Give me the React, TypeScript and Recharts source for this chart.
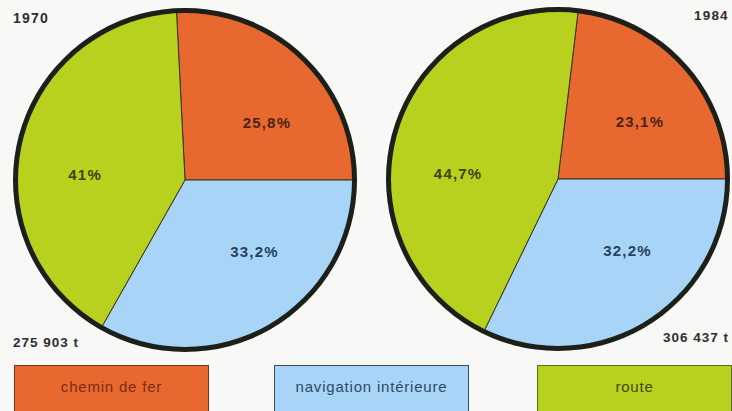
import { PieChart, Pie, Cell, Legend } from "recharts";

const CATEGORIES = ["chemin de fer", "navigation intérieure", "route"];
const YEARS = ["1970", "1984"];
const SHARES_1970 = [25.8, 33.2, 41];
const SHARES_1984 = [23.1, 32.2, 44.7];
const TOTALS = ["275 903 t", "306 437 t"];
const RING = [{ name: "ring", value: 1 }];

const FILLS = ["#e8692f", "#a8d4f7", "#b8d01e"];
const LABEL_INK = ["#4d2414", "#25425e", "#3a4510"];
const LEGEND_INK = ["#7a2c12", "#2c4a68", "#3d4a12"];
const LEGEND_BORDER = ["#6a3a1c", "#3c4c5c", "#5e6a1c"];

const FONT = "'Liberation Sans', Arial, Helvetica, sans-serif";
const W = 732;
const H = 411;
const RADIUS = 169;
// labels sit at the same angles in both pies, not at the slice middles
const LABEL_ANGLES = [35, -46, 177];
const LABEL_RADIUS = 100;
const RADIAN = Math.PI / 180;

const toData = (shares: number[]) =>
  CATEGORIES.map((name, i) => ({ name, value: shares[i] }));

const data1970 = toData(SHARES_1970);
const data1984 = toData(SHARES_1984);

const fmt = (v: number) => `${String(v).replace(".", ",")}%`;

function SliceLabel(props: any) {
  const { cx, cy, index, value } = props;
  const a = LABEL_ANGLES[index] * RADIAN;
  const x = cx + LABEL_RADIUS * Math.cos(a);
  const y = cy - LABEL_RADIUS * Math.sin(a);
  return (
    <text
      x={x}
      y={y}
      textAnchor="middle"
      dominantBaseline="central"
      fill={LABEL_INK[index]}
      fontFamily={FONT}
      fontSize={15}
      fontWeight="bold"
      letterSpacing={1.2}
    >
      {fmt(value)}
    </text>
  );
}

function LegendBoxes() {
  return (
    <div style={{ position: "relative", width: W, height: 46 }}>
      {CATEGORIES.map((name, i) => (
        <div
          key={name}
          style={{
            position: "absolute",
            left: [14, 274, 537][i],
            top: 0,
            width: 195,
            height: 50,
            boxSizing: "border-box",
            background: FILLS[i],
            border: `1px solid ${LEGEND_BORDER[i]}`,
            color: LEGEND_INK[i],
            fontFamily: FONT,
            fontSize: 15,
            letterSpacing: 0.8,
            lineHeight: "22px",
            paddingTop: 10,
            textAlign: "center",
          }}
        >
          {name}
        </div>
      ))}
    </div>
  );
}

export default function App() {
  const pies = [
    { data: data1970, cx: 185, cy: 180, start: SHARES_1970[0] * 3.6 },
    { data: data1984, cx: 558, cy: 179, start: SHARES_1984[0] * 3.6 },
  ];

  return (
    <div
      style={{
        position: "absolute",
        left: 0,
        top: 0,
        width: W,
        height: H,
        overflow: "hidden",
        background: "#f8f8f7",
      }}
    >
      <PieChart width={W} height={H} margin={{ top: 0, right: 0, bottom: 0, left: 0 }}>
        {pies.map((p, k) => (
          <Pie
            key={`pie-${k}`}
            data={p.data}
            dataKey="value"
            nameKey="name"
            cx={p.cx}
            cy={p.cy}
            outerRadius={RADIUS}
            startAngle={p.start}
            endAngle={p.start - 360}
            stroke="#3a3028"
            strokeWidth={1}
            label={SliceLabel}
            labelLine={false}
            legendType={k === 0 ? "rect" : "none"}
            isAnimationActive={false}
          >
            {p.data.map((d, i) => (
              <Cell key={d.name} fill={FILLS[i]} />
            ))}
          </Pie>
        ))}
        {pies.map((p, k) => (
          <Pie
            key={`ring-${k}`}
            data={RING}
            dataKey="value"
            cx={p.cx}
            cy={p.cy}
            innerRadius={RADIUS - 2}
            outerRadius={RADIUS + 3}
            fill="#1c2018"
            stroke="none"
            legendType="none"
            isAnimationActive={false}
          />
        ))}
        <Legend
          content={() => <LegendBoxes />}
          wrapperStyle={{ left: 0, top: 365, bottom: "auto", width: W }}
        />
      </PieChart>
      <svg
        width={W}
        height={H}
        style={{ position: "absolute", left: 0, top: 0, pointerEvents: "none" }}
        fontFamily={FONT}
        fontWeight="bold"
        fill="#2e2e2e"
      >
        <text x={13} y={23} fontSize={14} letterSpacing={1.2}>
          {YEARS[0]}
        </text>
        <text x={694} y={20} fontSize={13.5} letterSpacing={1.2}>
          {YEARS[1]}
        </text>
        <text x={13} y={347} fontSize={13.5} letterSpacing={1}>
          {TOTALS[0]}
        </text>
        <text x={663} y={342} fontSize={13.5} letterSpacing={1}>
          {TOTALS[1]}
        </text>
      </svg>
    </div>
  );
}
